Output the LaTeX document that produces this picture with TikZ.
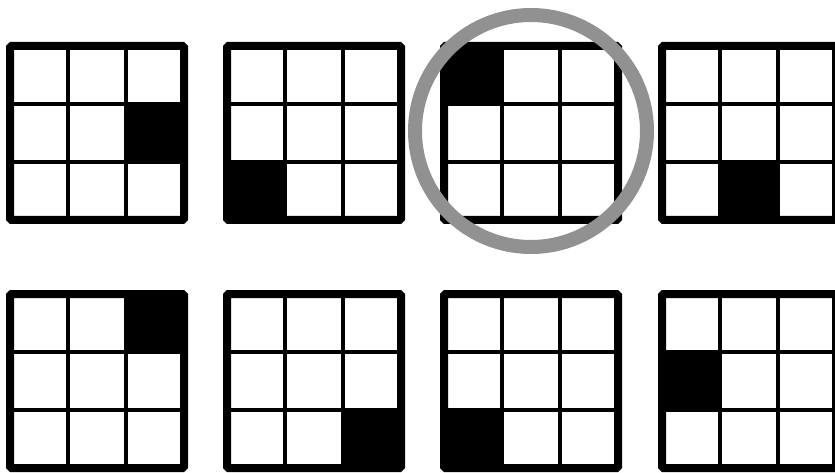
\documentclass[tikz,border=0pt]{standalone}
\definecolor{ringgray}{RGB}{145,145,145}
\tikzset{
  gridouter/.style={draw=black, line width=8pt, rounded corners=1.5pt},
  gridinner/.style={draw=black, line width=4pt},
  darkcell/.style={fill=black},
  ring/.style={draw=ringgray, line width=14pt}
}
\begin{document}
\begin{tikzpicture}[x=1pt,y=1pt]
\useasboundingbox (0,0) rectangle (835,-473);
\clip (0,0) rectangle (835,-473);
\fill[white] (0,0) rectangle (835,-473);
\foreach \gx/\gy/\c/\r in {6/42/3/2, 223/42/1/3, 440/42/1/1, 658/42/2/3, 6/290/3/1, 223/290/3/3, 440/290/1/3, 658/290/1/2}{
  \pgfmathsetmacro{\xo}{\gx+4}
  \pgfmathsetmacro{\yo}{\gy+4}
  \fill[darkcell] ({\xo+(\c-1)*58},{-(\yo+(\r-1)*58)}) rectangle ++(58,-58);
  \draw[gridinner] ({\xo+58},{-\yo}) -- ++(0,-174);
  \draw[gridinner] ({\xo+116},{-\yo}) -- ++(0,-174);
  \draw[gridinner] ({\xo},{-(\yo+58)}) -- ++(174,0);
  \draw[gridinner] ({\xo},{-(\yo+116)}) -- ++(174,0);
  \draw[gridouter] ({\xo},{-\yo}) rectangle ++(174,-174);
}
\draw[ring] (531,-131) circle[radius=116];
\end{tikzpicture}
\end{document}
